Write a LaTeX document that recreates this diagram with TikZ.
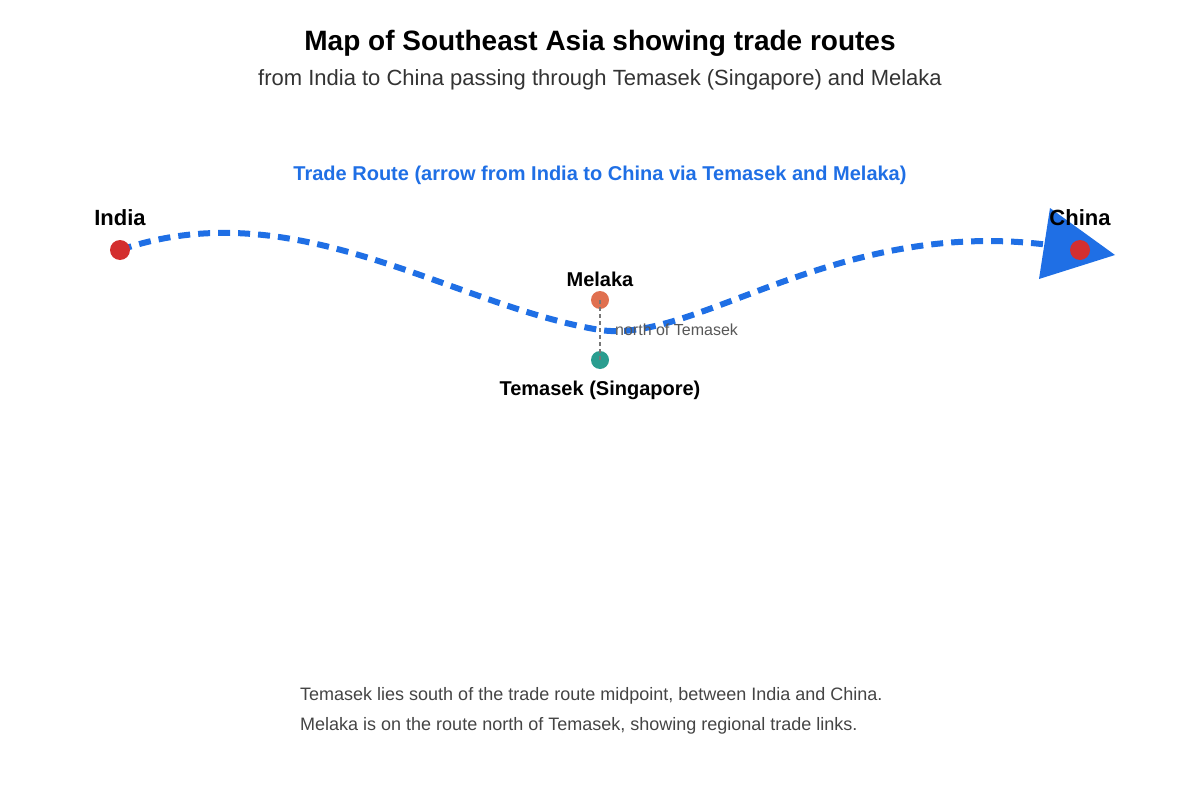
\documentclass[tikz,border=0pt]{standalone}
\usepackage{fontspec}
\setmainfont{Liberation Sans}
\definecolor{routeblue}{HTML}{1F6FE5}
\definecolor{dotred}{HTML}{D32F2F}
\definecolor{melaka}{HTML}{E07050}
\definecolor{temasek}{HTML}{2A9D8F}
\definecolor{sub}{HTML}{333333}
\definecolor{note}{HTML}{444444}
\definecolor{guide}{HTML}{777777}
\tikzset{
  dot/.style={circle,inner sep=0pt,minimum size=#1},
  place/.style={font=\fontsize{20}{24}\selectfont\bfseries,text=black,inner sep=0pt},
  route/.style={routeblue,line width=6pt,dash pattern=on 12pt off 8pt},
  notetext/.style={font=\fontsize{18}{22}\selectfont,text=note,anchor=west,inner sep=0pt},
}
\begin{document}
\begin{tikzpicture}[x=1pt,y=-1pt]
\useasboundingbox (0,0) rectangle (1200,800);
\node[font=\fontsize{28}{32}\selectfont\bfseries,text=black] (title) at (600,43) {Map of Southeast Asia showing trade routes};
\node[font=\fontsize{22}{26}\selectfont,text=sub] (subtitle) at (600,80) {from India to China passing through Temasek (Singapore) and Melaka};
\node[font=\fontsize{20}{24}\selectfont\bfseries,text=routeblue] (routelabel) at (600,175) {Trade Route (arrow from India to China via Temasek and Melaka)};
% anchor points
\coordinate (indiaP) at (120,250);
\coordinate (chinaP) at (1080,250);
\coordinate (mid) at (600,330);
% route
\draw[route] (indiaP) .. controls (295,190) and (450,305) .. (mid) .. controls (700,345) and (850,205) .. (chinaP);
\fill[routeblue] (1050,208) -- (1115,255) -- (1039,279) -- cycle;
% melaka-temasek
\node[dot=18pt,fill=melaka] (melaka) at (600,300) {};
\node[dot=18pt,fill=temasek] (temasek) at (600,360) {};
\draw[guide,line width=1.5pt,dash pattern=on 4pt off 3pt] (melaka.center) -- (temasek.center);
% dots
\node[dot=20pt,fill=dotred] (india) at (indiaP) {};
\node[dot=20pt,fill=dotred] (china) at (chinaP) {};
% labels
\node[place,font=\fontsize{22}{26}\selectfont\bfseries] (indiaL) at (120,218) {India};
\node[place,font=\fontsize{22}{26}\selectfont\bfseries] (chinaL) at (1080,218) {China};
\node[place] (melakaL) at (600,279) {Melaka};
\node[place] (temasekL) at (600,390) {Temasek (Singapore)};
\node[font=\fontsize{16}{20}\selectfont,text=note!90,anchor=west,inner sep=0pt] (northL) at (615,330) {north of Temasek};
% notes
\node[notetext] (note1) at (300,696) {Temasek lies south of the trade route midpoint, between India and China.};
\node[notetext] (note2) at (300,726) {Melaka is on the route north of Temasek, showing regional trade links.};
\end{tikzpicture}
\end{document}
